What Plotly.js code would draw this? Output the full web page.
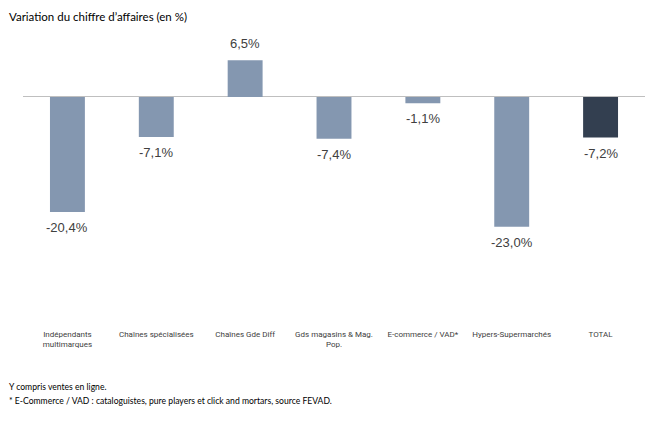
<!DOCTYPE html>
<html>
<head>
<meta charset="utf-8">
<script src="https://cdn.plot.ly/plotly-3.0.1.min.js"></script>
<style>html,body{margin:0;padding:0;background:#fff;}#chart{width:656px;height:423px;}</style>
</head>
<body>
<div id="chart"></div>
<script>
const categories = ["Indépendants<br>multimarques", "Chaînes spécialisées", "Chaînes Gde Diff", "Gds magasins & Mag.<br>Pop.", "E-commerce / VAD*", "Hypers-Supermarchés", "TOTAL"];
const values = [-20.4, -7.1, 6.5, -7.4, -1.1, -23.0, -7.2];
const barColors = ["#8497B0", "#8497B0", "#8497B0", "#8497B0", "#8497B0", "#8497B0", "#333F50"];
const titleText = "Variation du chiffre d’affaires (en %)";
const footnotes = ["Y compris ventes en ligne.", "* E-Commerce / VAD : cataloguistes, pure players et click and mortars, source FEVAD."];

const labels = values.map(v => v.toFixed(1).replace('.', ',') + '%');

const W = 656, H = 423;
const mL = 22.5, mR = 10.5, mT = 40, mB = 101;
const plotH = H - mT - mB;
const plotW = W - mL - mR;

const annotations = values.map((v, i) => ({
  x: categories[i], y: v, xref: 'x', yref: 'y',
  text: labels[i], showarrow: false,
  yanchor: v < 0 ? 'top' : 'bottom',
  yshift: v < 0 ? -6 : 7,
  font: {family: 'Liberation Sans, Arial, sans-serif', size: 13, color: '#404040'}
}));
footnotes.forEach((t, i) => {
  const py = [387, 400.5][i];
  annotations.push({
    text: t, showarrow: false, xref: 'paper', yref: 'paper',
    x: (6 - mL) / plotW, y: (H - mB - py) / plotH,
    xanchor: 'left', yanchor: 'middle', align: 'left',
    font: {family: 'Lato, Open Sans, sans-serif', size: 8.6, color: '#000'}
  });
});

const data = [{
  type: 'bar', x: categories, y: values,
  marker: {color: barColors},
  hoverinfo: 'none'
}];

const layout = {
  width: W, height: H,
  margin: {l: mL, r: mR, t: mT, b: mB, pad: 0},
  paper_bgcolor: '#fff', plot_bgcolor: '#fff',
  bargap: 0.607,
  showlegend: false,
  title: {
    text: titleText, xref: 'container', yref: 'container',
    x: 9 / W, xanchor: 'left', y: 1 - 17 / H, yanchor: 'middle',
    font: {family: 'Lato, Open Sans, sans-serif', size: 11.5, color: '#000'}
  },
  xaxis: {
    type: 'category', showgrid: false, showline: false, ticks: '', zeroline: false,
    ticklabelstandoff: 6,
    tickfont: {family: 'Roboto, Inter, sans-serif', size: 8, color: '#404040'},
    fixedrange: true
  },
  yaxis: {
    range: [-39.9, 10.1],
    showgrid: false, showticklabels: false, ticks: '', showline: false,
    zeroline: true, zerolinecolor: '#BFBFBF', zerolinewidth: 1,
    fixedrange: true
  },
  annotations: annotations
};

Plotly.newPlot('chart', data, layout, {displayModeBar: false, staticPlot: true});
</script>
</body>
</html>
